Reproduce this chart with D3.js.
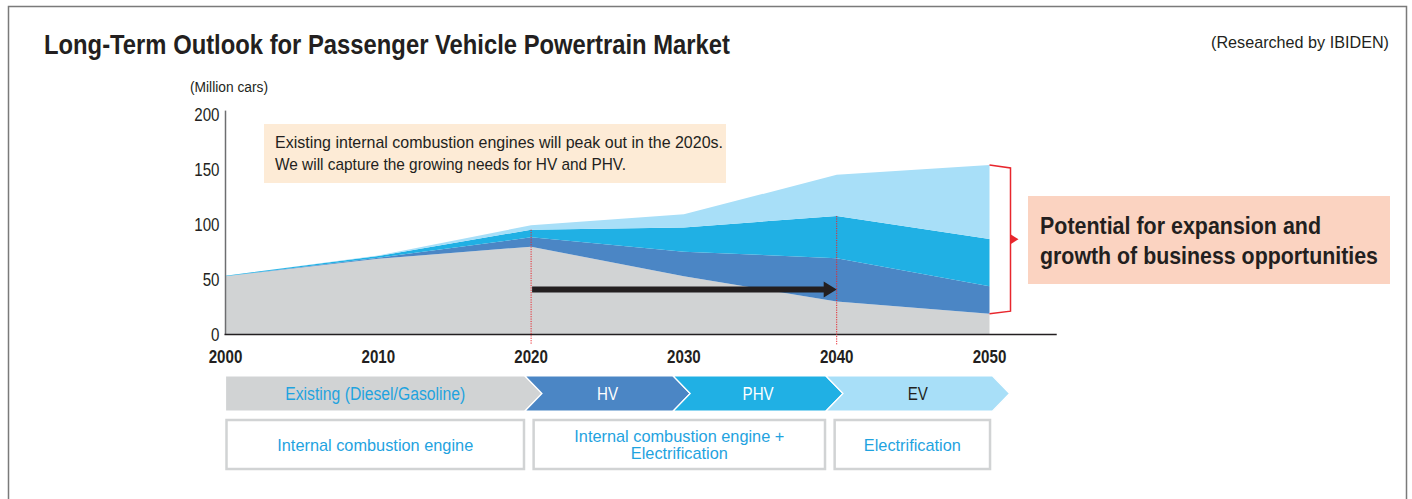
<!DOCTYPE html>
<html>
<head>
<meta charset="utf-8">
<script src="https://cdnjs.cloudflare.com/ajax/libs/d3/7.8.5/d3.min.js"></script>
<style>
  body { margin: 0; background: #fff; }
  svg text { font-family: "Liberation Sans", Arial, Helvetica, sans-serif; fill: #231f20; }
</style>
</head>
<body>
<div id="chart"></div>
<script>
// data (million cars)
var years = [2000, 2010, 2020, 2030, 2040, 2050];
var iceValues = [53, 69, 80, 53, 30, 19];
var hvValues = [0, 1, 8.5, 22.5, 39.5, 25];
var phvValues = [0.5, 1.5, 7, 22, 38.5, 43];
var evValues = [0, 0.5, 4, 12, 37.5, 67.5];

var yTicks = [0, 50, 100, 150, 200];
var xTicks = [2000, 2010, 2020, 2030, 2040, 2050];

// powertrain bands under the axis
var bandLabels = ["Existing (Diesel/Gasoline)", "HV", "PHV", "EV"];
var bandEdges = [2000, 2019.6, 2029.3, 2039.3, 2050.2];
var boxLabels = [["Internal combustion engine"], ["Internal combustion engine +", "Electrification"], ["Electrification"]];
var boxEdges = [[2000, 2019.6], [2020.1, 2039.3], [2039.8, 2050.1]];

var keys = ["ice", "hv", "phv", "ev"];
var colors = { ice: "#d1d3d4", hv: "#4b86c5", phv: "#20b0e4", ev: "#a8dff8" };
var bandColors = ["#d1d3d4", "#4b86c5", "#20b0e4", "#a8dff8"];
var bandTextColors = ["#1fa3df", "#ffffff", "#ffffff", "#231f20"];
var blueText = "#1fa3df";
var red = "#e8262d";

// the original face is a condensed grotesque, so squeeze Liberation Sans
var narrow = 0.84;
var textWidths = {
  "Long-Term Outlook for Passenger Vehicle Powertrain Market": 686,
  "(Researched by IBIDEN)": 178,
  "(Million cars)": 78,
  "Existing internal combustion engines will peak out in the 2020s.": 448,
  "We will capture the growing needs for HV and PHV.": 351,
  "Potential for expansion and": 281,
  "growth of business opportunities": 338,
  "Existing (Diesel/Gasoline)": 180,
  "Internal combustion engine": 196,
  "Internal combustion engine +": 210,
  "Electrification": 97
};

function squeeze(sel) {
  sel.each(function () {
    var t = d3.select(this);
    var w = textWidths[t.text()] || this.getComputedTextLength() * narrow;
    t.attr("textLength", w).attr("lengthAdjust", "spacingAndGlyphs");
  });
}

var svgWidth = 1412;
var svgHeight = 499;

var svg = d3.select("#chart")
  .append("svg")
  .attr("width", svgWidth)
  .attr("height", svgHeight);

// frame
svg.append("path")
  .attr("d", "M8.5,499 V6.5 H1406.5 V499")
  .attr("fill", "none")
  .attr("stroke", "#7a7a7a")
  .attr("stroke-width", 1.5);

// title
svg.append("text")
  .attr("x", 44)
  .attr("y", 54)
  .attr("font-size", "28px")
  .attr("font-weight", "bold")
  .text("Long-Term Outlook for Passenger Vehicle Powertrain Market")
  .call(squeeze);

svg.append("text")
  .attr("x", 1389)
  .attr("y", 48)
  .attr("text-anchor", "end")
  .attr("font-size", "17px")
  .text("(Researched by IBIDEN)")
  .call(squeeze);

var xScale = d3.scaleLinear()
  .domain([2000, 2050])
  .range([225.5, 989.5]);

var yScale = d3.scaleLinear()
  .domain([0, 200])
  .range([334.5, 115]);

// build table for stacking
var table = years.map(function (yr, i) {
  return { year: yr, ice: iceValues[i], hv: hvValues[i], phv: phvValues[i], ev: evValues[i] };
});

var stacked = d3.stack().keys(keys)(table);

var area = d3.area()
  .x(d => xScale(d.data.year))
  .y0(d => yScale(d[0]))
  .y1(d => yScale(d[1]));

var chartGroup = svg.append("g");

chartGroup.selectAll("path.layer")
  .data(stacked)
  .enter()
  .append("path")
  .attr("class", "layer")
  .attr("d", area)
  .attr("fill", d => colors[d.key]);

// axes lines
chartGroup.append("line")
  .attr("x1", xScale(2000))
  .attr("x2", xScale(2000))
  .attr("y1", yScale(0))
  .attr("y2", yScale(204))
  .attr("stroke", "#6d6e70")
  .attr("stroke-width", 1.5);

chartGroup.append("line")
  .attr("x1", xScale(2000) - 1)
  .attr("x2", xScale(2054.4))
  .attr("y1", yScale(0))
  .attr("y2", yScale(0))
  .attr("stroke", "#231f20")
  .attr("stroke-width", 1.5);

// y tick labels
chartGroup.selectAll("text.ytick")
  .data(yTicks)
  .enter()
  .append("text")
  .attr("class", "ytick")
  .attr("x", xScale(2000) - 6)
  .attr("y", d => yScale(d) + 6)
  .attr("text-anchor", "end")
  .attr("font-size", "18px")
  .text(d => d)
  .call(squeeze);

// x tick labels
chartGroup.selectAll("text.xtick")
  .data(xTicks)
  .enter()
  .append("text")
  .attr("class", "xtick")
  .attr("x", d => xScale(d))
  .attr("y", 363)
  .attr("text-anchor", "middle")
  .attr("font-size", "18px")
  .attr("font-weight", "bold")
  .text(d => d)
  .call(squeeze);

svg.append("text")
  .attr("x", 190)
  .attr("y", 92)
  .attr("font-size", "14px")
  .text("(Million cars)")
  .call(squeeze);

// annotation box
svg.append("rect")
  .attr("x", 264)
  .attr("y", 124)
  .attr("width", 462)
  .attr("height", 59)
  .attr("fill", "#fdebd6");

svg.append("text")
  .attr("x", 275)
  .attr("y", 148)
  .attr("font-size", "17px")
  .text("Existing internal combustion engines will peak out in the 2020s.")
  .call(squeeze);

svg.append("text")
  .attr("x", 275)
  .attr("y", 170)
  .attr("font-size", "17px")
  .text("We will capture the growing needs for HV and PHV.")
  .call(squeeze);

// red dotted guides at 2020 and 2040
function phvTop(yr) {
  var i = years.indexOf(yr);
  return iceValues[i] + hvValues[i] + phvValues[i];
}
chartGroup.selectAll("line.guide")
  .data([2020, 2040])
  .enter()
  .append("line")
  .attr("class", "guide")
  .attr("x1", d => xScale(d))
  .attr("x2", d => xScale(d))
  .attr("y1", d => yScale(phvTop(d)))
  .attr("y2", yScale(0) + 10)
  .attr("stroke", red)
  .attr("stroke-width", 1)
  .attr("stroke-dasharray", "1.2,1.2");

// black arrow 2020 -> 2040
var arrowY = yScale(41);
var ax0 = xScale(2020) + 1;
var ax1 = xScale(2040);
chartGroup.append("path")
  .attr("d", `M${ax0},${arrowY - 3} H${ax1 - 13} V${arrowY - 8} L${ax1},${arrowY} L${ax1 - 13},${arrowY + 8} V${arrowY + 3} H${ax0} Z`)
  .attr("fill", "#231f20");

// red bracket at 2050
var i50 = years.indexOf(2050);
var topY = yScale(iceValues[i50] + hvValues[i50] + phvValues[i50] + evValues[i50]);
var botY = yScale(iceValues[i50]);
var bx0 = xScale(2050);
var bx1 = bx0 + 21;
chartGroup.append("path")
  .attr("d", `M${bx0},${topY} L${bx1},${topY + 3} V${botY - 2.5} L${bx0},${botY}`)
  .attr("fill", "none")
  .attr("stroke", red)
  .attr("stroke-width", 1.5);

var midY = (topY + botY) / 2;
chartGroup.append("path")
  .attr("d", `M${bx1},${midY - 5} L${bx1 + 8},${midY} L${bx1},${midY + 5} Z`)
  .attr("fill", red);

// callout
svg.append("rect")
  .attr("x", 1028)
  .attr("y", 196)
  .attr("width", 362)
  .attr("height", 88)
  .attr("fill", "#fbd3c1");

svg.append("text")
  .attr("x", 1040)
  .attr("y", 234)
  .attr("font-size", "24px")
  .attr("font-weight", "bold")
  .text("Potential for expansion and")
  .call(squeeze);

svg.append("text")
  .attr("x", 1040)
  .attr("y", 264)
  .attr("font-size", "24px")
  .attr("font-weight", "bold")
  .text("growth of business opportunities")
  .call(squeeze);

// chevron bands
var bandTop = 376;
var bandBottom = 411;
var notch = 17;
var bandMid = (bandTop + bandBottom) / 2;

var bandGroup = svg.append("g");
bandLabels.forEach(function (label, i) {
  var left = xScale(bandEdges[i]);
  var right = xScale(bandEdges[i + 1]);
  var d;
  if (i === 0) {
    d = `M${left},${bandTop} H${right} L${right + notch},${bandMid} L${right},${bandBottom} H${left} Z`;
  } else {
    d = `M${left},${bandTop} H${right} L${right + notch},${bandMid} L${right},${bandBottom} H${left} L${left + notch},${bandMid} Z`;
  }
  bandGroup.append("path")
    .attr("d", d)
    .attr("fill", bandColors[i])
    .attr("stroke", "#fff")
    .attr("stroke-width", 1.2);

  var cx = i === 0 ? (left + right) / 2 : (left + notch + right) / 2;
  bandGroup.append("text")
    .attr("x", cx)
    .attr("y", bandMid + 6.5)
    .attr("text-anchor", "middle")
    .attr("font-size", "18px")
    .style("fill", bandTextColors[i])
    .text(label)
    .call(squeeze);
});

// description boxes
var boxTop = 420;
var boxBottom = 469;
boxLabels.forEach(function (lines, i) {
  var left = xScale(boxEdges[i][0]);
  var right = xScale(boxEdges[i][1]);
  bandGroup.append("rect")
    .attr("x", left + 1)
    .attr("y", boxTop)
    .attr("width", right - left - 2)
    .attr("height", boxBottom - boxTop)
    .attr("fill", "#fff")
    .attr("stroke", "#d1d3d4")
    .attr("stroke-width", 2.5);

  var cy = (boxTop + boxBottom) / 2;
  lines.forEach(function (line, j) {
    bandGroup.append("text")
      .attr("x", (left + right) / 2)
      .attr("y", cy + 6 + (j - (lines.length - 1) / 2) * 17)
      .attr("text-anchor", "middle")
      .attr("font-size", "17px")
      .style("fill", blueText)
      .text(line)
      .call(squeeze);
  });
});
</script>
</body>
</html>
